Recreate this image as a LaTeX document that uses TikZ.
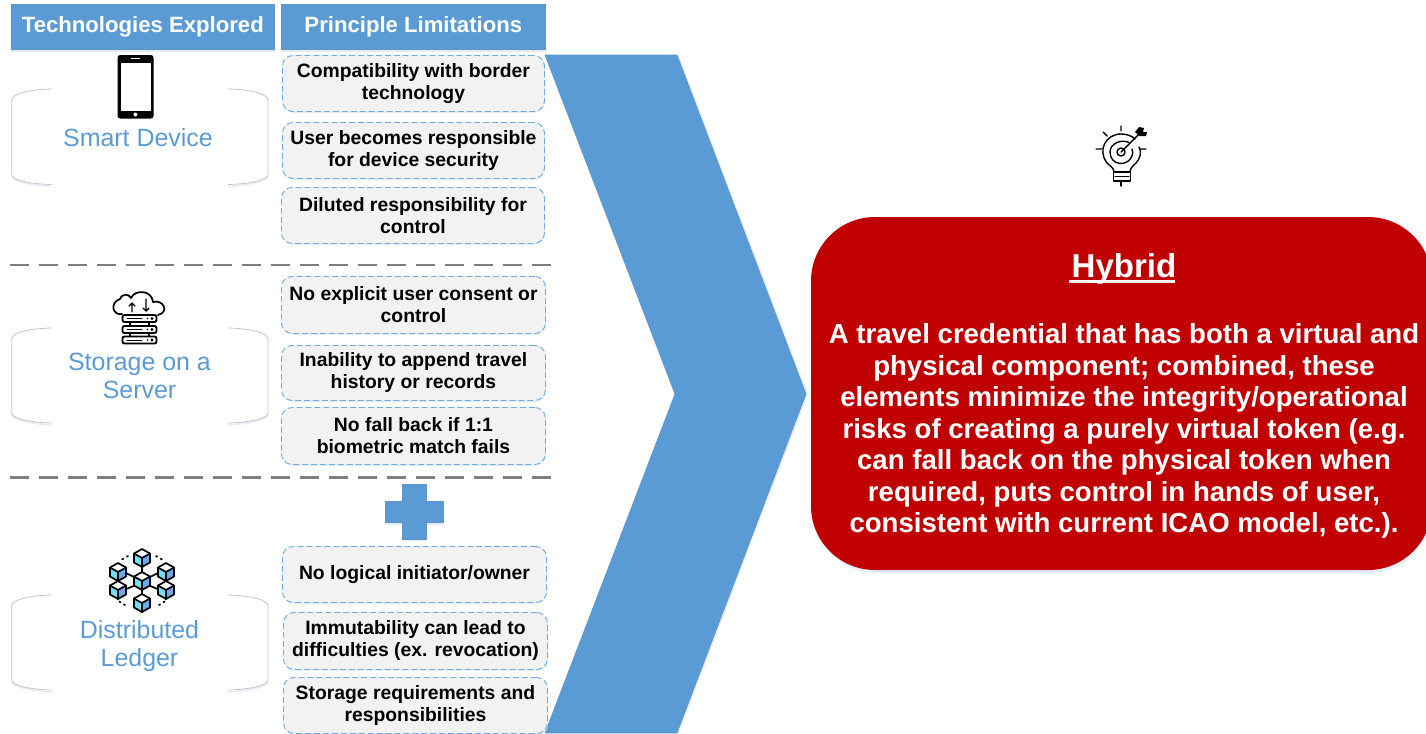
\documentclass[tikz,border=0pt]{standalone}
\usepackage{fontspec}
\setmainfont{Liberation Sans}
\definecolor{hdrblue}{HTML}{5B9BD5}
\definecolor{softshadow}{HTML}{E4EDF7}
\definecolor{limitfill}{HTML}{F2F2F2}
\definecolor{limitedge}{HTML}{6FAAE2}
\definecolor{redbox}{HTML}{C00000}
\definecolor{rule}{HTML}{7F7F7F}
\definecolor{brk}{HTML}{C4C4C4}
\definecolor{cubeleft}{HTML}{6FE0F5}
\definecolor{cuberight}{HTML}{6FA8E8}
\tikzset{
 x=0.75pt,y=-0.75pt,
 hdrbox/.style={draw=hdrblue!80!gray,line width=0.5pt,fill=hdrblue,text=white,font=\fontsize{16.6}{19}\selectfont\bfseries,inner sep=0pt,anchor=north west},
 limitbox/.style={draw=limitedge,fill=limitfill,dash pattern=on 4.5pt off 2.2pt,line width=0.7pt,rounded corners=8pt,inner sep=0pt,anchor=north west,align=center,font=\fontsize{14.5}{16.5}\selectfont\bfseries,text=black},
 techlabel/.style={text=hdrblue,font=\fontsize{18.7}{21}\selectfont,align=center,inner sep=0pt},
 brkline/.style={draw=brk,line width=0.6pt},
 sep/.style={draw=rule,line width=1.7pt,dash pattern=on 13.9pt off 7.85pt},
 blueshape/.style={fill=hdrblue,draw=hdrblue!85!gray,line width=0.5pt},
 icon/.style={draw=black,line width=1.3pt,line cap=round,line join=round},
 thinicon/.style={draw=black,line width=1.05pt,line cap=round,line join=round},
}
\newcommand{\brackets}[2]{%
 \draw[softshadow,line width=1.2pt] (51.7,#2+2) .. controls (28,#2+0.5) and (12,#2-4) .. (12,#2-8);
 \draw[softshadow,line width=1.2pt] (268,#2-8) .. controls (268,#2-4) and (251,#2+0.5) .. (228,#2+2);
 \draw[brkline] (51.7,#1) .. controls (28,#1+0.5) and (11.7,#1+5) .. (11.7,#1+11) -- (11.7,#2-10) .. controls (11.7,#2-5) and (28,#2-0.5) .. (51.7,#2);
 \draw[brkline] (228,#1) .. controls (251,#1+0.5) and (268,#1+5) .. (268,#1+11) -- (268,#2-10) .. controls (268,#2-5) and (251,#2-0.5) .. (228,#2);
}
\newcommand{\limitcard}[6]{% name, x0, y0, x1, y1, text
 \fill[softshadow,rounded corners=8pt] (#2+1,#3+2) rectangle (#4+1,#5+1.8);
 \node[limitbox,minimum width=(#4-#2)*0.75pt,minimum height=(#5-#3)*0.75pt] (#1) at (#2,#3) {#6};
}
\newcommand{\netcube}[2]{% cx, cy
 \begin{scope}[shift={(#1,#2)}]
 \fill[white] (0,-9) -- (8,-4.5) -- (0,0) -- (-8,-4.5) -- cycle;
 \fill[cubeleft] (-8,-4.5) -- (0,0) -- (0,9) -- (-8,4.5) -- cycle;
 \fill[cuberight] (8,-4.5) -- (0,0) -- (0,9) -- (8,4.5) -- cycle;
 \draw[icon] (0,-9) -- (8,-4.5) -- (8,4.5) -- (0,9) -- (-8,4.5) -- (-8,-4.5) -- cycle;
 \draw[icon] (-8,-4.5) -- (0,0) -- (8,-4.5) (0,0) -- (0,9);
 \end{scope}
}
\newcommand{\rack}[1]{%
 \draw[thinicon,line width=1.4pt,rounded corners=1.5pt] (122.5,#1) rectangle (156.5,#1+7);
 \draw[thinicon,line width=0.7pt] (127,#1+3.5) -- (142,#1+3.5);
 \fill (147.5,#1+3.5) circle (0.8);
 \fill (152,#1+3.5) circle (1.6);
}
\begin{document}
\begin{tikzpicture}
\useasboundingbox (0,0) rectangle (1426,733);
% chevron
\fill[softshadow] (547,56) -- (679,56) -- (808,394) -- (679,733) -- (547,733) -- (677,394) -- cycle;
\path[blueshape] (545,55) -- (677,55) -- (806,394) -- (677,733) -- (545,733) -- (675,394) -- cycle;
% headers
\fill[softshadow] (11,7) rectangle (275,52);
\fill[softshadow] (282,7) rectangle (546,52);
\node[hdrbox,minimum width=263*0.75pt,minimum height=45*0.75pt] (h1) at (11,4) {Technologies Explored};
\node[hdrbox,minimum width=264*0.75pt,minimum height=45*0.75pt] (h2) at (281,4) {Principle Limitations};
% brackets
\brackets{89}{184.5}
\brackets{328}{423}
\brackets{595}{690}
% tech labels
\node[techlabel] (t1) at (138,138) {Smart Device};
\node[techlabel] (t2) at (139.5,375.5) {Storage on a\\Server};
\node[techlabel] (t3) at (139.5,646) {Distributed\\Ledger};
% limits
\limitcard{a1}{282}{55}{544}{111}{Compatibility with border\\technology}
\limitcard{a2}{282}{122}{544}{178}{User becomes responsible\\for device security}
\limitcard{a3}{281}{187}{544}{243}{Diluted responsibility for\\control}
\limitcard{b1}{281}{276}{545}{333}{No explicit user consent or\\control}
\limitcard{b2}{281}{345}{545}{400}{Inability to append travel\\history or records}
\limitcard{b3}{281}{407}{545}{464}{No fall back if 1:1\\biometric match fails}
\limitcard{c1}{282}{546}{546}{602}{No logical initiator/owner}
\limitcard{c2}{283}{612}{547}{669}{Immutability can lead to\\difficulties (ex. revocation)}
\limitcard{c3}{283}{677}{547}{733}{Storage requirements and\\responsibilities}
% separators
\draw[sep] (10,265) -- (552,265);
\draw[sep] (10,477.5) -- (552,477.5);
% plus
\fill[softshadow] (403,486) -- (426,486) -- (426,503) -- (444,503) -- (444,525) -- (426,525) -- (426,541) -- (403,541) -- (403,525) -- (385,525) -- (385,503) -- (403,503) -- cycle;
\path[blueshape] (402.5,484) -- (426,484) -- (426,501) -- (443.5,501) -- (443.5,522.5) -- (426,522.5) -- (426,539) -- (402.5,539) -- (402.5,522.5) -- (385,522.5) -- (385,501) -- (402.5,501) -- cycle;
% red box
\fill[softshadow,rounded corners=48pt] (813,220) rectangle (1432,573);
\path[fill=redbox,rounded corners=48pt] (811,217) rectangle (1432,570);
\node[inner sep=0pt,text=white,anchor=base,font=\fontsize{24.8}{28}\selectfont\bfseries] (hy) at (1124,277.5) {Hybrid};
\draw[white,line width=2.2pt] (hy.base west) ++(-2,3.7) -- ++(106,0);
\node[inner sep=0pt,text=white,align=center,font=\fontsize{20.7}{23.65}\selectfont\bfseries] (hd) at (1124,431) {A travel credential that has both a virtual and\\physical component; combined, these\\elements minimize the integrity/operational\\risks of creating a purely virtual token (e.g.\\can fall back on the physical token when\\required, puts control in hands of user,\\consistent with current ICAO model, etc.).};
% phone
\fill[black,rounded corners=2pt] (117.5,55) rectangle (153.5,118.5);
\fill[white] (120.5,62.5) rectangle (150.5,110.5);
\fill[white] (135.5,114.5) circle (2);
\draw[white,line width=0.5pt] (131,58.5) -- (140,58.5);
% server icon
\draw[icon] (122,314) .. controls (113,316) and (109,303) .. (120,299) .. controls (121,294) and (129,293) .. (131,298) .. controls (135,289) and (152,290) .. (153,302) .. controls (163,299) and (170,312) .. (158,315);
\draw[thinicon] (132,312) -- (132,303) (129,306) -- (132,303) -- (135,306);
\draw[thinicon] (146,299) -- (146,311) (143,308) -- (146,311) -- (149,308);
\rack{315}
\rack{326}
\rack{336.5}
\draw[thinicon] (130,322) -- (130,326) (149,322) -- (149,326) (130,333) -- (130,336.5) (149,333) -- (149,336.5);
% ledger icon
\draw[icon] (124,572) -- (136,578) (160,572) -- (148,578) (124,590) -- (136,585) (160,590) -- (148,585) (142,567) -- (142,573) (142,590) -- (142,595);
\draw[icon,dash pattern=on 1pt off 3pt] (128,556) -- (121,560) (156,556) -- (163,560) (125,605) -- (117,600) (159,605) -- (167,600);
\netcube{142}{558}
\netcube{118}{572}
\netcube{166}{572}
\netcube{118}{590}
\netcube{166}{590}
\netcube{142}{603}
\netcube{142}{581}
% bulb icon
\draw[thinicon] (1114,172) .. controls (1114,168) and (1110,166) .. (1107,163) .. controls (1097,150) and (1106,134) .. (1121,134) .. controls (1127,134) and (1132,136) .. (1135,139) (1139,147) .. controls (1142,152) and (1140,159) .. (1136,163) .. controls (1133,166) and (1130,168) .. (1130,172);
\draw[thinicon] (1113.5,172) rectangle (1130.5,181);
\draw[thinicon] (1115,176.5) -- (1129,176.5);
\draw[thinicon] (1121,181) -- (1121,186);
\draw[thinicon] (1121,152) circle (4);
\draw[thinicon] (1129,142.5) .. controls (1122,139) and (1110,143) .. (1110,152) .. controls (1110,166) and (1128,167) .. (1132,156) .. controls (1133,154) and (1133,152) .. (1132,149);
\draw[thinicon] (1121,152) -- (1141,132);
\path[fill=black] (1135,132) -- (1139,136) -- (1146,136) -- (1147,132) -- (1143,132) -- (1144,128) -- (1139,127) -- cycle;
\draw[thinicon] (1121,126) -- (1121,131) (1103,132) -- (1107,136) (1096,149) -- (1102,149) (1140,149) -- (1146,149);
\end{tikzpicture}
\end{document}
